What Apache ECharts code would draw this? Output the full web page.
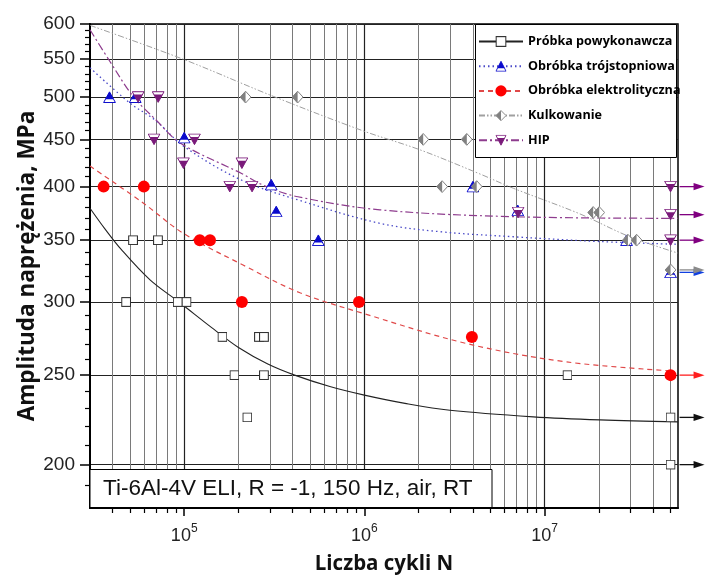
<!DOCTYPE html>
<html><head><meta charset="utf-8">
<script src="https://cdn.jsdelivr.net/npm/echarts@6/dist/echarts.min.js"></script>
<style>html,body{margin:0;padding:0;background:#fff}#c{width:705px;height:579px}</style>
</head><body><div id="c"></div>
<script>
// ---------- data ----------
const seriesNames = ['Próbka powykonawcza', 'Obróbka trójstopniowa', 'Obróbka elektrolityczna', 'Kulkowanie', 'HIP'];

const ptsPowykonawcza = [[4.76e4,300],[9.2e4,300],[1.03e5,300],[5.2e4,350],[7.15e4,350],[1.63e5,275],[2.6e5,275],[2.77e5,275],[1.9e5,250],[2.77e5,250],[2.24e5,225],[1.34e7,250],[5e7,225],[5e7,200]];
const ptsTrojstopniowa = [[3.85e4,500],[5.35e4,500],[1.0e5,452],[3.04e5,402],[3.24e5,376],[5.55e5,350],[4.0e6,400],[7.1e6,377],[2.85e7,350],[5e7,323]];
const ptsElektrolityczna = [[3.57e4,400],[5.97e4,400],[1.22e5,350],[1.39e5,350],[2.09e5,300],[9.33e5,300],[3.95e6,275],[5e7,250]];
const ptsKulkowanie = [[2.19e5,500],[4.26e5,500],[2.12e6,450],[3.7e6,450],[2.7e6,400],[4.2e6,400],[1.86e7,375],[2.01e7,375],[2.9e7,350],[3.24e7,350],[5e7,325]];
const ptsHIP = [[5.55e4,500],[7.17e4,500],[6.8e4,450],[1.14e5,450],[9.9e4,424],[2.09e5,424],[1.79e5,400],[2.38e5,400],[7.13e6,375],[5e7,400],[5e7,373],[5e7,350]];

const runPowykonawcza = [[5e7,225],[5e7,200]];
const runTrojstopniowa = [[5e7,323]];
const runElektrolityczna = [[5e7,250]];
const runKulkowanie = [[5e7,325]];
const runHIP = [[5e7,400],[5e7,373],[5e7,350]];

const fitPowykonawcza = [[3e4,379],[3.63e4,360],[4.47e4,342],[6.46e4,317],[9.35e4,300],[1.47e5,280],[1.99e5,268],[2.91e5,257],[4.1e5,250],[6.43e5,243],[9.85e5,238],[1.68e6,233],[2.98e6,229],[8.65e6,225.3],[2.03e7,223.6],[5.5e7,222.5]];
const fitTrojstopniowa = [[3e4,538],[5e4,492.6],[6.86e4,472.5],[1e5,442],[2.07e5,406.7],[4.28e5,387],[1.22e6,365],[2.62e6,357.5],[6.7e6,353],[2.03e7,348.8],[5.5e7,346.4]];
const fitElektrolityczna = [[3e4,421],[5.92e4,384],[9.9e4,356],[2.12e5,329],[4.39e5,307],[9.85e5,291.6],[3.69e6,270.5],[1.32e7,258.4],[5e7,252.7]];
const fitKulkowanie = [[3e4,598],[1e5,549],[3.12e5,501],[9.82e5,459.7],[2.03e6,438.5],[4.38e6,412.8],[6.7e6,398.4],[1.57e7,373.7],[2.97e7,353],[5.5e7,338.9]];
const fitHIP = [[3e4,591.5],[3.87e4,546.5],[5.21e4,500.8],[7e4,472],[9.5e4,446],[2.07e5,413.5],[2.86e5,400],[4.28e5,390],[1.22e6,377.5],[6.7e6,371.1],[5.5e7,369.6]];

const xLabelTicks = [1e5, 1e6, 1e7];
const xMajorTicks = [1e5, 1e6, 1e7];
const xMinorTicks = [4e4,5e4,6e4,7e4,8e4,9e4,2e5,3e5,4e5,5e5,6e5,7e5,8e5,9e5,2e6,3e6,4e6,5e6,6e6,7e6,8e6,9e6,2e7,3e7,4e7,5e7];
const yMajorTicks = [200,250,300,350,400,450,500,550,600];
const yMinorTicks = [190,210,220,230,240,260,270,280,290,310,320,330,340,360,370,380,390,410,420,430,440,460,470,480,490,510,520,530,540,560,570,580,590];
const noteText = 'Ti-6Al-4V ELI, R = -1, 150 Hz, air, RT';

// ---------- styles ----------
function svgUri(s){ return 'image://data:image/svg+xml;charset=utf-8,' + encodeURIComponent(s); }
const C_BLUE = '#0a0acc', C_RED = '#ff0000', C_GRAY = '#808080', C_PURPLE = '#7a1a7a';
const symSquare = svgUri("<svg xmlns='http://www.w3.org/2000/svg' width='20' height='20' viewBox='0 0 20 20'><rect x='1.2' y='1.2' width='17.6' height='17.6' fill='white' stroke='#333' stroke-width='2.2'/></svg>");
const symTriUp = svgUri("<svg xmlns='http://www.w3.org/2000/svg' width='26' height='24' viewBox='0 0 26 24'><polygon points='13,1.5 24.8,22.8 1.2,22.8' fill='white' stroke='"+C_BLUE+"' stroke-width='2'/><polygon points='13,1.5 21.4,16.5 4.6,16.5' fill='"+C_BLUE+"'/></svg>");
const symTriDown = svgUri("<svg xmlns='http://www.w3.org/2000/svg' width='26' height='24' viewBox='0 0 26 24'><polygon points='1.2,1.2 24.8,1.2 13,22.5' fill='white' stroke='"+C_PURPLE+"' stroke-width='2'/><polygon points='4.4,7 21.6,7 13,22.5' fill='"+C_PURPLE+"'/></svg>");
const symDiamond = svgUri("<svg xmlns='http://www.w3.org/2000/svg' width='24' height='26' viewBox='0 0 24 26'><polygon points='12,1.2 22.8,13 12,24.8 1.2,13' fill='white' stroke='"+C_GRAY+"' stroke-width='2'/><polygon points='12,1.2 12,24.8 1.2,13' fill='"+C_GRAY+"'/></svg>");

const defs = [
  {name: seriesNames[0], pts: ptsPowykonawcza, fit: fitPowykonawcza, run: runPowykonawcza, sym: symSquare, size: 10, color: '#222', arrow: '#111', line: {color:'#222', width:1.1, type:'solid'}},
  {name: seriesNames[1], pts: ptsTrojstopniowa, fit: fitTrojstopniowa, run: runTrojstopniowa, sym: symTriUp, size: [13,12], color: C_BLUE, arrow: '#1040e0', line: {color:'#4a4ac8', width:1.3, type:[1.5,3]}},
  {name: seriesNames[2], pts: ptsElektrolityczna, fit: fitElektrolityczna, run: runElektrolityczna, sym: 'circle', size: 12, color: C_RED, arrow: '#ff2020', line: {color:'#e04848', width:1.2, type:[5,4]}},
  {name: seriesNames[3], pts: ptsKulkowanie, fit: fitKulkowanie, run: runKulkowanie, sym: symDiamond, size: [12,13], color: C_GRAY, arrow: '#8a8a8a', line: {color:'#a0a0a0', width:1, type:[6,2,1.5,2,1.5,2]}},
  {name: seriesNames[4], pts: ptsHIP, fit: fitHIP, run: runHIP, sym: symTriDown, size: [13,12], color: C_PURPLE, arrow: '#800080', line: {color:'#8e3c8e', width:1.2, type:[8,3,2,3]}}
];

const series = [];
defs.forEach(d => {
  series.push({
    name: d.name, type: 'line', data: d.fit, smooth: 0.35, showSymbol: false,
    symbol: d.sym, symbolSize: d.size, clip: true, silent: true, z: 2,
    itemStyle: {color: d.color},
    lineStyle: d.line
  });
});
defs.forEach(d => {
  series.push({
    name: d.name, type: 'scatter', data: d.pts, symbol: d.sym, symbolSize: d.size,
    itemStyle: {color: d.color, opacity: 1}, silent: true, z: 3
  });
});
defs.forEach(d => {
  const col = d.arrow;
  series.push({
    type: 'custom', coordinateSystem: 'cartesian2d', data: d.run, clip: false, silent: true, z: 4,
    encode: {x: 0, y: 1},
    renderItem: function (params, api) {
      const p = api.coord([api.value(0), api.value(1)]);
      return {type: 'group', children: [
        {type: 'line', shape: {x1: p[0] + 9, y1: p[1], x2: p[0] + 27, y2: p[1]}, style: {stroke: col, lineWidth: 1.3}},
        {type: 'polygon', shape: {points: [[p[0] + 23, p[1] - 3.6], [p[0] + 34, p[1]], [p[0] + 23, p[1] + 3.6]]}, style: {fill: col}}
      ]};
    }
  });
});

const chart = echarts.init(document.getElementById('c'), null, {renderer: 'canvas'});
chart.setOption({
  animation: false,
  backgroundColor: '#fff',
  grid: {left: 90, top: 24, right: 27, bottom: 71, show: true, borderColor: '#000', borderWidth: 1.5, backgroundColor: 'transparent', containLabel: false, outerBoundsMode: 'none'},
  legend: {
    data: seriesNames, orient: 'vertical', left: 476, top: 25, padding: [10, 4, 4, 2],
    itemWidth: 44, itemHeight: 14, itemGap: 11.7, z: 5, selectedMode: false,
    textStyle: {fontFamily: 'Open Sans', fontWeight: 'bold', fontSize: 12.6, color: '#000'}
  },
  xAxis: [
    {type: 'log', min: 3e4, max: 5.5e7, position: 'bottom',
     name: 'Liczba cykli N', nameLocation: 'middle', nameGap: 46, nameMoveOverlap: false,
     nameTextStyle: {fontFamily: 'Open Sans', fontWeight: 'bold', fontSize: 20.5, color: '#111'},
     axisLine: {show: true, onZero: false, lineStyle: {color: '#000', width: 2}},
     axisTick: {show: true, inside: false, length: 5, customValues: xMinorTicks, lineStyle: {color: '#000', width: 1.2}},
     minorTick: {show: false},
     axisLabel: {show: true, customValues: xLabelTicks, margin: 15,
       formatter: v => '{b|10}{s|' + Math.round(Math.log10(v)) + '}',
       rich: {b: {fontSize: 18, fontFamily: 'Liberation Sans', color: '#222', lineHeight: 22, verticalAlign: 'bottom'},
              s: {fontSize: 12, fontFamily: 'Liberation Sans', color: '#222', lineHeight: 12, verticalAlign: 'top'}}},
     splitLine: {show: true, lineStyle: {color: '#7a7a7a', width: 1}}},
    {type: 'log', min: 3e4, max: 5.5e7, position: 'bottom',
     axisLine: {show: false},
     axisTick: {show: true, inside: false, length: 8, customValues: xMajorTicks, lineStyle: {color: '#000', width: 1.5}},
     axisLabel: {show: false},
     splitLine: {show: true, lineStyle: {color: '#222', width: 1.2}}}
  ],
  yAxis: [
    {type: 'log', min: 179.5, max: 600, position: 'left',
     name: 'Amplituda naprężenia, MPa', nameLocation: 'middle', nameGap: 51, nameRotate: 90, nameMoveOverlap: false,
     nameTextStyle: {fontFamily: 'Open Sans', fontWeight: 'bold', fontSize: 22.5, color: '#111'},
     axisLine: {show: true, onZero: false, lineStyle: {color: '#000', width: 2}},
     axisTick: {show: true, inside: false, length: 10, customValues: yMajorTicks, lineStyle: {color: '#000', width: 1.5}},
     axisLabel: {show: true, customValues: yMajorTicks, margin: 15, fontSize: 19, fontFamily: 'Liberation Sans', color: '#222'},
     splitLine: {show: true, lineStyle: {color: '#222', width: 1}}},
    {type: 'log', min: 179.5, max: 600, position: 'left',
     axisLine: {show: false},
     axisTick: {show: true, inside: false, length: 5, customValues: yMinorTicks, lineStyle: {color: '#000', width: 1.2}},
     axisLabel: {show: false},
     splitLine: {show: false}}
  ],
  graphic: [
    {type: 'rect', z: 3, shape: {x: 475.5, y: 24.5, width: 201, height: 133}, style: {fill: '#fff', stroke: '#000', lineWidth: 1}},
    {type: 'rect', z: 3, shape: {x: 90, y: 469.5, width: 402, height: 38}, style: {fill: '#fff', stroke: '#000', lineWidth: 1}},
    {type: 'text', z: 4, x: 103, y: 489, style: {text: noteText, fontSize: 22.5, fontFamily: 'Liberation Sans', fill: '#111', verticalAlign: 'middle', align: 'left'}}
  ],
  series: series
});
</script></body></html>
